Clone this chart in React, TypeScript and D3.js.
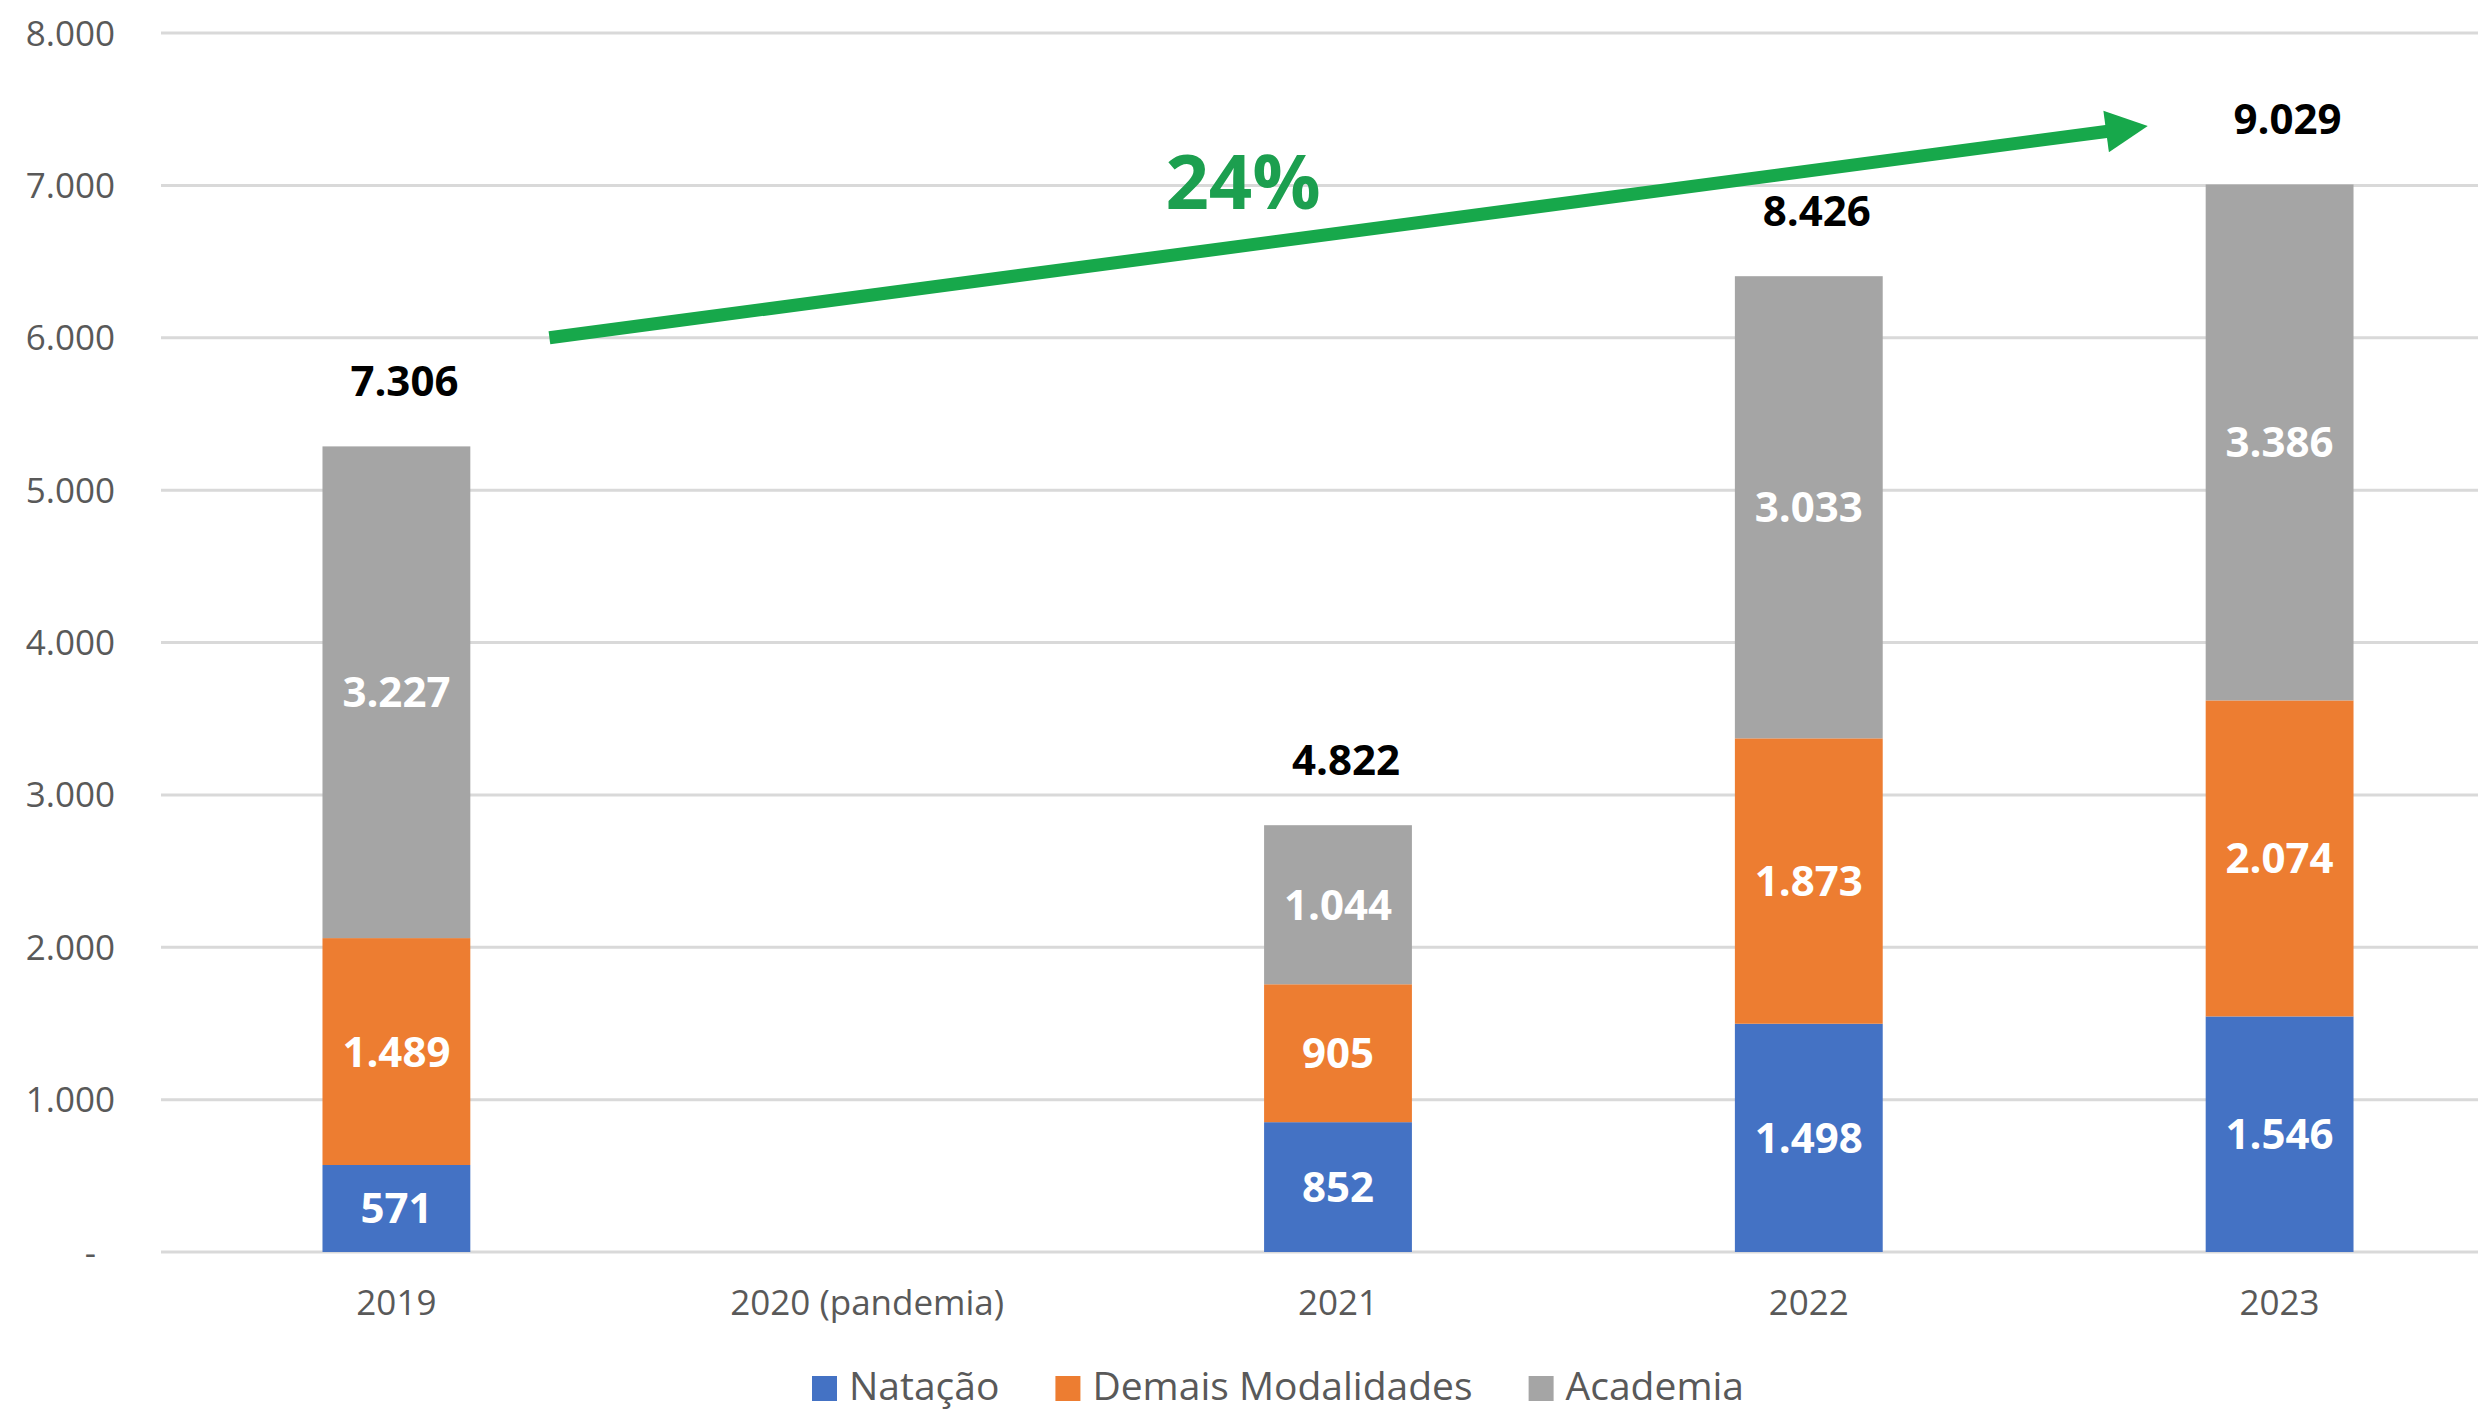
import React, { useEffect, useRef } from "react";
import * as d3 from "d3";

// ---- data ----
const categories = ["2019", "2020 (pandemia)", "2021", "2022", "2023"];
const seriesKeys = ["Natação", "Demais Modalidades", "Academia"];
const natacao = [571, null, 852, 1498, 1546];
const demais = [1489, null, 905, 1873, 2074];
const academia = [3227, null, 1044, 3033, 3386];
const totalLabels = [7306, null, 4822, 8426, 9029];
const yTicks = [0, 1000, 2000, 3000, 4000, 5000, 6000, 7000, 8000];
const growthLabel = "24%";
const arrowFrom = { category: "2019", value: 6000 };
const arrowTo = { category: "2023", value: 7390 };

const W = 2478;
const H = 1411;
const FONT = "'Open Sans', 'Noto Sans', sans-serif";
const colors = ["#4472C4", "#ED7D31", "#A5A5A5"];

export default function App() {
  const ref = useRef<SVGSVGElement | null>(null);

  useEffect(() => {
    document.body.style.margin = "0";
    const svg = d3.select(ref.current);
    svg.selectAll("*").remove();

    const rows = categories.map((c, i) => ({
      category: c,
      "Natação": natacao[i] ?? 0,
      "Demais Modalidades": demais[i] ?? 0,
      "Academia": academia[i] ?? 0,
      has: natacao[i] != null,
      total: totalLabels[i],
    }));

    const x = d3
      .scaleBand<string>()
      .domain(categories)
      .range([161, 2515])
      .paddingInner(0.686)
      .paddingOuter(0.343);
    const y = d3.scaleLinear().domain([0, 8000]).range([1252, 33]);

    const locale = d3.formatLocale({
      decimal: ",",
      thousands: ".",
      grouping: [3],
      currency: ["R$", ""],
    });
    const fmt = locale.format(",d");

    // gridlines
    svg
      .append("g")
      .selectAll("line")
      .data(yTicks)
      .join("line")
      .attr("x1", 161)
      .attr("x2", W)
      .attr("y1", (d) => y(d))
      .attr("y2", (d) => y(d))
      .attr("stroke", "#D9D9D9")
      .attr("stroke-width", 3);

    // y tick labels
    svg
      .append("g")
      .selectAll("text")
      .data(yTicks)
      .join("text")
      .attr("x", (d) => (d === 0 ? 96 : 115))
      .attr("y", (d) => y(d) + 12.5)
      .attr("text-anchor", "end")
      .attr("font-family", FONT)
      .attr("font-size", 35)
      .attr("fill", "#595959")
      .text((d) => (d === 0 ? "-" : fmt(d)));

    // stacked bars
    const stack = d3.stack<any>().keys(seriesKeys);
    const stacked = stack(rows);
    const layers = svg
      .append("g")
      .selectAll("g")
      .data(stacked)
      .join("g")
      .attr("fill", (_d, i) => colors[i]);

    layers
      .selectAll("rect")
      .data((d) => d.filter((p) => p.data.has))
      .join("rect")
      .attr("x", (p: any) => x(p.data.category)!)
      .attr("width", x.bandwidth())
      .attr("y", (p) => y(p[1]))
      .attr("height", (p) => y(p[0]) - y(p[1]));

    // segment labels
    layers
      .selectAll("text")
      .data((d) => d.filter((p) => p.data.has))
      .join("text")
      .attr("x", (p: any) => x(p.data.category)! + x.bandwidth() / 2)
      .attr("y", (p) => y((p[0] + p[1]) / 2) + 15)
      .attr("text-anchor", "middle")
      .attr("font-family", FONT)
      .attr("font-weight", 700)
      .attr("font-size", 42)
      .attr("fill", "#FFFFFF")
      .text((p) => fmt(p[1] - p[0]));

    // totals
    const top = stacked[stacked.length - 1];
    svg
      .append("g")
      .selectAll("text")
      .data(top.filter((p) => p.data.has))
      .join("text")
      .attr("x", (p: any) => x(p.data.category)! + x.bandwidth() / 2 + 8)
      .attr("y", (p) => y(p[1]) - 50)
      .attr("text-anchor", "middle")
      .attr("font-family", FONT)
      .attr("font-weight", 700)
      .attr("font-size", 42)
      .attr("fill", "#000000")
      .text((p: any) => fmt(p.data.total));

    // x labels
    svg
      .append("g")
      .selectAll("text")
      .data(categories)
      .join("text")
      .attr("x", (c) => x(c)! + x.bandwidth() / 2)
      .attr("y", 1315)
      .attr("text-anchor", "middle")
      .attr("font-family", FONT)
      .attr("font-size", 35)
      .attr("fill", "#595959")
      .text((c) => c);

    // growth arrow
    const step = x.step();
    const cx = (c: string) => x(c)! + x.bandwidth() / 2;
    const x0 = cx(arrowFrom.category) + step * 0.325;
    const y0 = y(arrowFrom.value);
    const x1 = cx(arrowTo.category) - step * 0.28;
    const y1 = y(arrowTo.value);
    const len = Math.hypot(x1 - x0, y1 - y0);
    const ux = (x1 - x0) / len;
    const uy = (y1 - y0) / len;
    const headLen = 42;
    const headHalf = 21;
    const bx = x1 - ux * headLen;
    const by = y1 - uy * headLen;
    const green = "#17A84B";
    svg
      .append("line")
      .attr("x1", x0)
      .attr("y1", y0)
      .attr("x2", bx + ux * 2)
      .attr("y2", by + uy * 2)
      .attr("stroke", green)
      .attr("stroke-width", 13);
    svg
      .append("path")
      .attr(
        "d",
        d3.line()([
          [x1, y1],
          [bx - uy * headHalf, by + ux * headHalf],
          [bx + uy * headHalf, by - ux * headHalf],
        ]) + "Z"
      )
      .attr("fill", green);

    const t = 0.434;
    svg
      .append("text")
      .attr("x", x0 + (x1 - x0) * t)
      .attr("y", y0 + (y1 - y0) * t - 37)
      .attr("text-anchor", "middle")
      .attr("font-family", FONT)
      .attr("font-weight", 700)
      .attr("font-size", 76)
      .attr("fill", "#1C9F4F")
      .text(growthLabel);

    // legend
    const legend = svg.append("g");
    let lx = 812;
    seriesKeys.forEach((k, i) => {
      legend
        .append("rect")
        .attr("x", lx)
        .attr("y", 1376)
        .attr("width", 25)
        .attr("height", 25)
        .attr("fill", colors[i]);
      const txt = legend
        .append("text")
        .attr("x", lx + 37)
        .attr("y", 1400)
        .attr("font-family", FONT)
        .attr("font-size", 39)
        .attr("fill", "#595959")
        .text(k);
      const w = (txt.node() as SVGTextElement).getComputedTextLength();
      lx = lx + 37 + w + 56;
    });
  }, []);

  return (
    <svg
      ref={ref}
      width={W}
      height={H}
      style={{ position: "absolute", top: 0, left: 0, display: "block", background: "#fff", overflow: "hidden" }}
    />
  );
}
